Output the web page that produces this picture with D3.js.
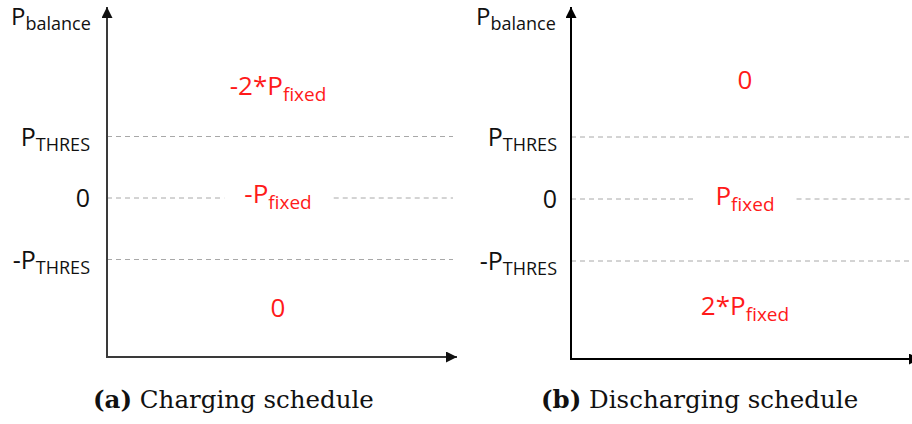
<!DOCTYPE html>
<html>
<head>
<meta charset="utf-8">
<script src="https://cdn.jsdelivr.net/npm/d3@7"></script>
<style>
  html, body { margin: 0; padding: 0; background: #fff; }
  svg { display: block; }
</style>
</head>
<body>
<svg id="chart" width="912" height="424"></svg>
<script>
// Threshold levels (in units of P_THRES) and their axis labels
const thresholdLevels = [1, 0, -1];
const tickMain = ["P", "0", "-P"];
const tickSub = ["THRES", "", "THRES"];

// Schedule regions: above P_THRES, between thresholds, below -P_THRES
const chargingLevels = [1.82, 0.06, -1.79];
const chargingMain = ["-2*P", "-P", "0"];
const chargingSub = ["fixed", "fixed", ""];
const dischargingLevels = [1.92, 0.05, -1.73];
const dischargingMain = ["0", "P", "2*P"];
const dischargingSub = ["", "fixed", "fixed"];

const captionTags = ["(a)", "(b)"];
const captionTexts = ["Charging schedule", "Discharging schedule"];

const svg = d3.select("#chart");

const defs = svg.append("defs");
function arrowMarker(id, color) {
  defs.append("marker")
    .attr("id", id)
    .attr("viewBox", "0 0 10 10")
    .attr("refX", 10).attr("refY", 5)
    .attr("markerWidth", 12).attr("markerHeight", 11)
    .attr("markerUnits", "userSpaceOnUse")
    .attr("orient", "auto")
    .append("path")
    .attr("d", "M0,0 L10,5 L0,10 Z")
    .attr("fill", color);
}
arrowMarker("arrowA", "#111");
arrowMarker("arrowB", "#000");

const panels = [
  { x0: 107, top: 7, bottom: 357, right: 457, zeroY: 198, unit: 61.5,
    labelRight: 90, axisColor: "#3a3a3a", arrow: "arrowA",
    levels: chargingLevels, main: chargingMain, sub: chargingSub, regionX: 278,
    titleX: 11, caption: 0, captionX: 93 },
  { x0: 571, top: 7, bottom: 359, right: 920, zeroY: 199, unit: 62,
    labelRight: 557, axisColor: "#000", arrow: "arrowB",
    levels: dischargingLevels, main: dischargingMain, sub: dischargingSub, regionX: 745,
    titleX: 476, caption: 1, captionX: 541 }
];

const sansFont = "'Open Sans', sans-serif";
const serifFont = "'DejaVu Serif', serif";

panels.forEach(p => {
  const g = svg.append("g");
  const y = d3.scaleLinear()
    .domain([0, 1])
    .range([p.zeroY, p.zeroY - p.unit]);

  // Red region labels
  const labels = g.selectAll("text.region")
    .data(p.levels)
    .join("text")
    .attr("class", "region")
    .attr("x", p.regionX)
    .attr("y", d => y(d) + 9)
    .attr("text-anchor", "middle")
    .attr("font-family", sansFont)
    .attr("font-size", 26)
    .attr("fill", "#ff1a1a");
  labels.each(function(d, i) {
    const t = d3.select(this);
    t.append("tspan").text(p.main[i]);
    if (p.sub[i]) {
      t.append("tspan").attr("dy", 6).attr("font-size", 19).text(p.sub[i]);
    }
  });

  // Dashed threshold lines; the zero line leaves room for its label
  const midNode = labels.filter((d, i) => i === 1).node();
  const bb = midNode.getBBox();
  const gapL = bb.x - 20, gapR = bb.x + bb.width + 22;
  thresholdLevels.forEach(lv => {
    const segs = lv === 0
      ? [[p.x0, gapL], [gapR, p.right - 4]]
      : [[p.x0, p.right - 4]];
    segs.forEach(s => {
      g.append("line")
        .attr("x1", s[0]).attr("x2", s[1])
        .attr("y1", y(lv)).attr("y2", y(lv))
        .attr("stroke", "#a8a8a8")
        .attr("stroke-width", 1)
        .attr("stroke-dasharray", "5,4");
    });
  });

  // Axes with arrowheads
  g.append("line")
    .attr("x1", p.x0).attr("x2", p.x0)
    .attr("y1", p.bottom + 1).attr("y2", p.top)
    .attr("stroke", p.axisColor).attr("stroke-width", 2)
    .attr("marker-end", `url(#${p.arrow})`);
  g.append("line")
    .attr("x1", p.x0 - 1).attr("x2", p.right)
    .attr("y1", p.bottom).attr("y2", p.bottom)
    .attr("stroke", p.axisColor).attr("stroke-width", 2)
    .attr("marker-end", `url(#${p.arrow})`);

  // Tick labels on the vertical axis
  g.selectAll("text.tick")
    .data(thresholdLevels)
    .join("text")
    .attr("class", "tick")
    .attr("x", p.labelRight)
    .attr("y", d => y(d) + 9)
    .attr("text-anchor", "end")
    .attr("font-family", sansFont)
    .attr("font-size", 25)
    .attr("fill", "#111")
    .each(function(d, i) {
      const t = d3.select(this);
      t.append("tspan").text(tickMain[i]);
      if (tickSub[i]) t.append("tspan").attr("dy", 5).attr("font-size", 18).text(tickSub[i]);
    });

  // Vertical axis title
  const title = g.append("text")
    .attr("x", p.titleX).attr("y", 25)
    .attr("font-family", sansFont)
    .attr("font-size", 24)
    .attr("fill", "#111");
  title.append("tspan").text("P");
  title.append("tspan").attr("dy", 5).attr("font-size", 18).text("balance");

  // Caption
  const cap = g.append("text")
    .attr("x", p.captionX).attr("y", 408)
    .attr("font-family", serifFont)
    .attr("font-size", 24.5)
    .attr("fill", "#111");
  cap.append("tspan").attr("font-weight", "bold").text(captionTags[p.caption]);
  cap.append("tspan").text("\u00a0" + captionTexts[p.caption]);
});
</script>
</body>
</html>
